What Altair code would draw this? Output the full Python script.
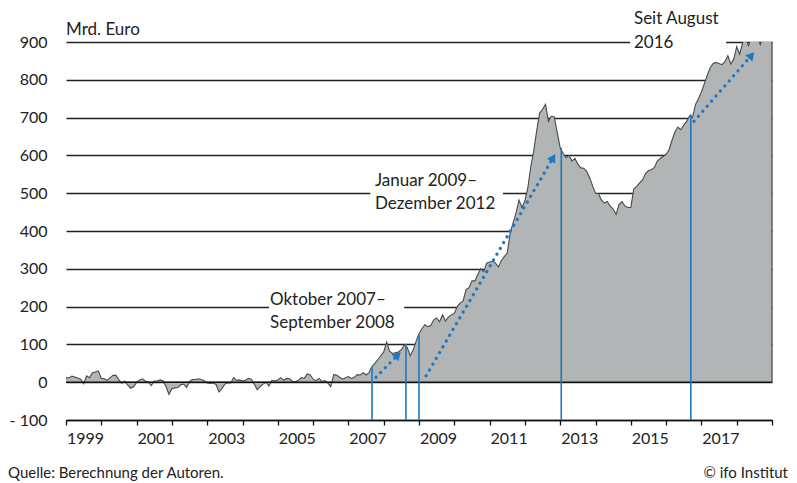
import math
import altair as alt
import pandas as pd

FONT = "Lato"

# Monthly values (Mrd. Euro), Jan 1999 onwards
v_1999_2004 = [12, 11, 16, 14, 11, 8, -4, 17, 12, 25,
               27, 30, 10, 9, 5, 12, 18, 18, 6, -3,
               3, -8, -16, -12, 0, 6, 9, 3, 0, -9,
               3, 4, 6, 4, -12, -32, -17, -15, -14, -7,
               -5, -14, 2, 7, 7, 9, 7, 4, -2, -3,
               -2, -6, -26, -17, -5, -2, -2, 12, 5, 6,
               3, 5, 10, 8, -5, -20, -12]
v_2004_2008 = [-5, 0, -10, 5, 3, 6, 12, 5, 10, 9,
               2, 1, 5, 12, 10, 22, 20, 8, 4, 10,
               2, 4, -2, -12, 20, 19, 13, 8, 12, 15,
               10, 13, 20, 19, 25, 19, 25, 41, 50, 60,
               70, 80, 106, 82, 76, 78, 80, 86, 99, 92,
               70, 85, 108]
v_2009_2012 = [128, 142, 152, 147, 150, 165, 170, 160, 178, 162,
               172, 178, 182, 200, 210, 215, 245, 250, 268, 268,
               285, 300, 292, 315, 318, 320, 315, 305, 322, 332,
               342, 395, 422, 448, 482, 462, 480, 515, 570, 612,
               665, 712, 722, 735, 690, 704, 702, 660]
v_2013_2019 = [620, 605, 594, 600, 585, 592, 577, 567, 566, 558,
               541, 520, 500, 499, 482, 474, 478, 466, 458, 444,
               470, 478, 466, 462, 462, 511, 518, 527, 535, 552,
               560, 562, 568, 585, 592, 597, 603, 615, 640, 662,
               675, 668, 680, 690, 705, 700, 735, 750, 768, 790,
               812, 832, 843, 846, 843, 840, 848, 864, 842, 855,
               888, 868, 898, 910, 890, 912, 905, 915, 893, 915,
               925, 935, 940]

values = v_1999_2004 + v_2004_2008 + v_2009_2012 + v_2013_2019
df = pd.DataFrame({"t": [1999 + m / 12 for m in range(len(values))], "v": values})

# blue vertical markers
mark_x = [2007.67, 2008.63, 2009.0, 2013.03, 2016.70]
mark_top = [42, 102, 124, 620, 709]

# dotted trend arrows
arrow_x1 = [2007.78, 2009.20, 2016.79]
arrow_y1 = [13, 17, 690]
arrow_x2 = [2008.40, 2012.80, 2018.42]
arrow_y2 = [72, 594, 865]

# annotation texts (baseline positions)
ann_text = ["Oktober 2007–", "September 2008", "Januar 2009–", "Dezember 2012",
            "Seit August", "2016", "Mrd. Euro"]
ann_x = [2004.78, 2004.78, 2007.75, 2007.75, 2015.09, 2015.09, 1999.0]
ann_y = [204, 144, 519, 458, 947, 884, 918]

# white boxes behind annotations
box_x1 = [2004.75, 2007.62, 2014.98]
box_x2 = [2008.58, 2011.38, 2017.70]
box_y1 = [165, 445, 880]
box_y2 = [285, 560, 925]

BLUE = "#1f78c1"
PXX = 706 / 20.0
PXY = 378 / 1000.0

X = alt.Scale(domain=[1999, 2019], nice=False, zero=False)
Y = alt.Scale(domain=[-100, 900], nice=False)

xaxis = alt.Axis(values=list(range(1999, 2020)),
                 labelExpr="(datum.value % 2 == 1 && datum.value < 2019) ? '' + datum.value : ''",
                 labelOffset=19, labelFlush=False, tickSize=5, tickColor="#111", tickWidth=1.3,
                 domainColor="#111", domainWidth=1.5, labelFontSize=16, labelColor="#222",
                 labelPadding=5, grid=False, title=None, labelOverlap=False, labelFont=FONT)
yaxis = alt.Axis(values=list(range(-100, 1000, 100)),
                 labelExpr="datum.value < 0 ? '- ' + abs(datum.value) : '' + datum.value",
                 grid=True, gridColor="#222", gridWidth=1.3, domain=False, ticks=False,
                 labelPadding=19, labelFontSize=16, labelColor="#222", title=None,
                 labelFont=FONT, labelFlush=False)


def xe(f):
    return alt.X(f, scale=X, axis=xaxis)


def ye(f):
    return alt.Y(f, scale=Y, axis=yaxis)


base = alt.Chart(df)
area = base.mark_area(color="#b2b5b6", clip=True).encode(x=xe("t:Q"), y=ye("v:Q"))
line = base.mark_line(color="#4a4a4a", strokeWidth=1.1, clip=True).encode(
    x=xe("t:Q"), y=ye("v:Q"))

last = df.iloc[-1]
edge_df = pd.DataFrame({"t": [last["t"]], "lo": [0], "hi": [min(last["v"], 900)]})
edge = alt.Chart(edge_df).mark_rule(color="#4a4a4a", strokeWidth=1.3).encode(
    x=xe("t:Q"), y=ye("lo:Q"), y2="hi:Q")

zero = alt.Chart(pd.DataFrame({"z": [0]})).mark_rule(color="#111", strokeWidth=1.5).encode(
    y=ye("z:Q"))

boxes = alt.Chart(pd.DataFrame({"x1": box_x1, "x2": box_x2, "y1": box_y1, "y2": box_y2})
                  ).mark_rect(color="white").encode(
    x=xe("x1:Q"), x2="x2:Q", y=ye("y1:Q"), y2="y2:Q")

texts = alt.Chart(pd.DataFrame({"x": ann_x, "y": ann_y, "s": ann_text})).mark_text(
    align="left", baseline="alphabetic", font=FONT, fontSize=17, color="#222").encode(
    x=xe("x:Q"), y=ye("y:Q"), text="s:N")

vlines = alt.Chart(pd.DataFrame({"x": mark_x, "top": mark_top, "bot": [-100] * 5})).mark_rule(
    color=BLUE, strokeWidth=1.6).encode(
    x=xe("x:Q"), y=ye("bot:Q"), y2="top:Q")

adf = pd.DataFrame({"x1": arrow_x1, "y1": arrow_y1, "x2": arrow_x2, "y2": arrow_y2})
adf["ang"] = [math.degrees(math.atan2((b - a) * PXX, (d - c) * PXY))
              for a, b, c, d in zip(arrow_x1, arrow_x2, arrow_y1, arrow_y2)]
dots = alt.Chart(adf).mark_rule(color=BLUE, strokeWidth=3.2, strokeDash=[0.1, 6.6],
                                strokeCap="round").encode(
    x=xe("x1:Q"), x2="x2:Q", y=ye("y1:Q"), y2="y2:Q")
heads = alt.Chart(adf).mark_point(shape="triangle-up", filled=True, color=BLUE, size=90,
                                  opacity=1).encode(
    x=xe("x2:Q"), y=ye("y2:Q"), angle=alt.Angle("ang:Q", scale=None))

foot = alt.Chart(pd.DataFrame({"s": ["Quelle: Berechnung der Autoren."]})).mark_text(
    align="left", baseline="alphabetic", font=FONT, fontSize=15, color="#222").encode(
    x=alt.value(-58), y=alt.value(436), text="s:N")
copy = alt.Chart(pd.DataFrame({"s": ["© ifo Institut"]})).mark_text(
    align="right", baseline="alphabetic", font=FONT, fontSize=15, color="#222").encode(
    x=alt.value(722), y=alt.value(436), text="s:N")

chart = alt.layer(area, line, zero, edge, boxes, texts, vlines, dots, heads, foot, copy
                  ).properties(
    width=706, height=378,
    padding={"left": 58, "top": 34, "right": 17, "bottom": 62},
    autosize=alt.AutoSizeParams(type="none"),
).configure_view(stroke=None)

chart.save("out.html", embed_options={"renderer": "svg", "actions": False})
